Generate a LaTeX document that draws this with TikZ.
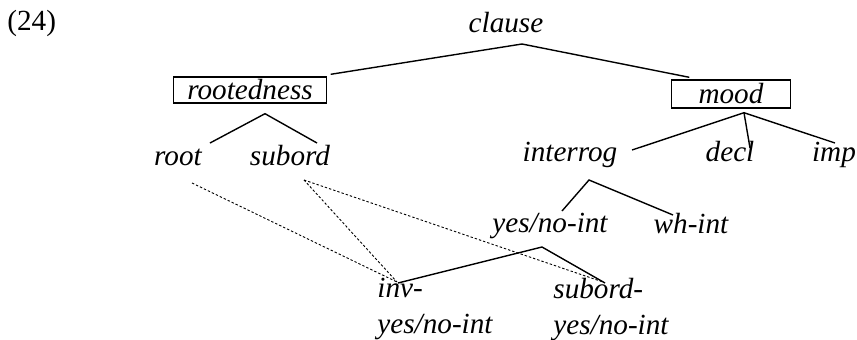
\documentclass[tikz,border=0pt]{standalone}
\usepackage{fontspec}
\setmainfont{Liberation Serif}
\usepackage{tikz}

\begin{document}
\begin{tikzpicture}[x=0.5pt,y=-0.5pt,
font=\fontsize{14.6}{18}\selectfont\itshape,
lbl/.style={anchor=base,inner sep=0pt},
featbox/.style={draw,line width=0.7pt,inner sep=0pt},
branch/.style={line width=0.7pt},
link/.style={line width=0.45pt,dash pattern=on 1.2pt off 1pt}]
\useasboundingbox (0,0) rectangle (857,339);
\node[anchor=base west,inner sep=0pt,font=\fontsize{14.6}{18}\selectfont\upshape] (exno) at (7,30) {(24)};
\node[lbl] (clause) at (506,32) {clause};
\node[featbox,minimum width=76.5pt,minimum height=13pt] (rooted) at (250,90) {rootedness};
\node[featbox,minimum width=59.5pt,minimum height=14pt] (mood) at (731,94) {mood};
\node[lbl] (root) at (178,165) {root};
\node[lbl] (subord) at (290,165) {subord};
\node[lbl] (interrog) at (570,161) {interrog};
\node[lbl] (decl) at (730,161) {decl};
\node[lbl] (imp) at (834,161) {imp};
\node[lbl] (yesno) at (550,232) {yes/no-int};
\node[lbl] (whint) at (691,233) {wh-int};
\node[anchor=north west,inner sep=0pt,align=left] (invyn) at (377,278) {inv-\\yes/no-int};
\node[anchor=north west,inner sep=0pt,align=left] (subyn) at (553,278) {subord-\\yes/no-int};
\draw[branch]
([shift={(3.5,-2)}]rooted.north east) -- ([shift={(16,12)}]clause.base) -- ([shift={(18.5,-2)}]mood.north west);
\draw[branch]
([shift={(32,-22)}]root.base) -- ([shift={(15,10)}]rooted.south) -- ([shift={(27,-22)}]subord.base);
\draw[branch]
([shift={(62,-11)}]interrog.base) -- ([shift={(13,4)}]mood.south) -- ([shift={(1,-18)}]imp.base);
\draw[branch]
([shift={(13,4)}]mood.south) -- ([shift={(20,-13)}]decl.base);
\draw[branch]
([shift={(12,-21)}]yesno.base) -- ([shift={(19,19)}]interrog.base) -- ([shift={(-18,-18)}]whint.base);
\draw[branch]
([shift={(21,5)}]invyn.north west) -- ([shift={(-8,15)}]yesno.base) -- ([shift={(52,5)}]subyn.north west);
\draw[link] ([shift={(14,18)}]root.base) -- ([shift={(20,4)}]invyn.north west);
\draw[link] ([shift={(14,15)}]subord.base) -- ([shift={(20,4)}]invyn.north west);
\draw[link] ([shift={(14,15)}]subord.base) -- ([shift={(50,4)}]subyn.north west);
\end{tikzpicture}
\end{document}
